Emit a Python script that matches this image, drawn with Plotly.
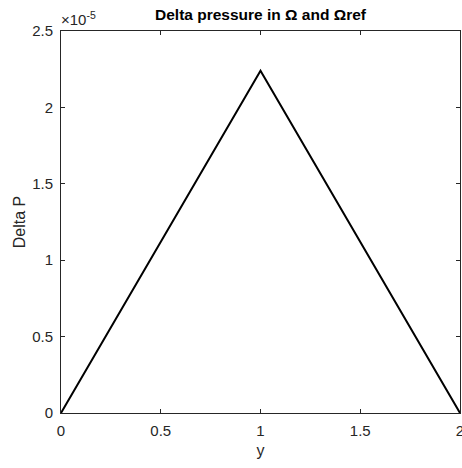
import plotly.graph_objects as go

x_vals = [0, 1, 2]
delta_p = [0, 2.24e-5, 0]
x_ticks = [0, 0.5, 1, 1.5, 2]
x_tick_labels = ["0", "0.5", "1", "1.5", "2"]
y_ticks = [0, 0.5e-5, 1.0e-5, 1.5e-5, 2.0e-5, 2.5e-5]
y_tick_labels = ["0", "0.5", "1", "1.5", "2", "2.5"]

font_family = "Liberation Sans, Arial, sans-serif"
axis_col = "#262626"

fig = go.Figure()
fig.add_trace(go.Scatter(x=x_vals, y=delta_p, mode="lines",
                         line=dict(color="black", width=2), showlegend=False))

axis_common = dict(showgrid=False, zeroline=False, showline=True, linecolor=axis_col,
                   linewidth=1, mirror="allticks", ticks="inside", ticklen=4,
                   tickcolor=axis_col, ticklabeloverflow="allow", automargin=False,
                   tickfont=dict(family=font_family, size=15, color=axis_col))

fig.update_layout(
    width=462, height=468,
    margin=dict(l=61, r=2, t=31, b=55),
    plot_bgcolor="white", paper_bgcolor="white",
    title=dict(text="<b>Delta pressure in Ω and Ωref</b>", x=(61 + 460) / 2 / 462, xanchor="center",
               y=1 - 15 / 468, yanchor="middle", automargin=False,
               font=dict(family=font_family, size=15.5, color="black")),
    xaxis=dict(range=[0, 2], tickvals=x_ticks, ticktext=x_tick_labels, ticklabelstandoff=4,
               title=dict(text="y", font=dict(family=font_family, size=16, color=axis_col), standoff=6),
               **axis_common),
    yaxis=dict(range=[0, 2.5e-5], tickvals=y_ticks, ticktext=y_tick_labels, ticklabelstandoff=4,
               title=dict(text="Delta P", font=dict(family=font_family, size=16, color=axis_col), standoff=2),
               **axis_common),
    annotations=[dict(text="×10<sup>-5</sup>", xref="paper", yref="paper", x=0, y=1,
                      xanchor="left", yanchor="bottom", yshift=1, xshift=-2, showarrow=False,
                      font=dict(family=font_family, size=15, color=axis_col))],
)

fig.write_html("out.html")
